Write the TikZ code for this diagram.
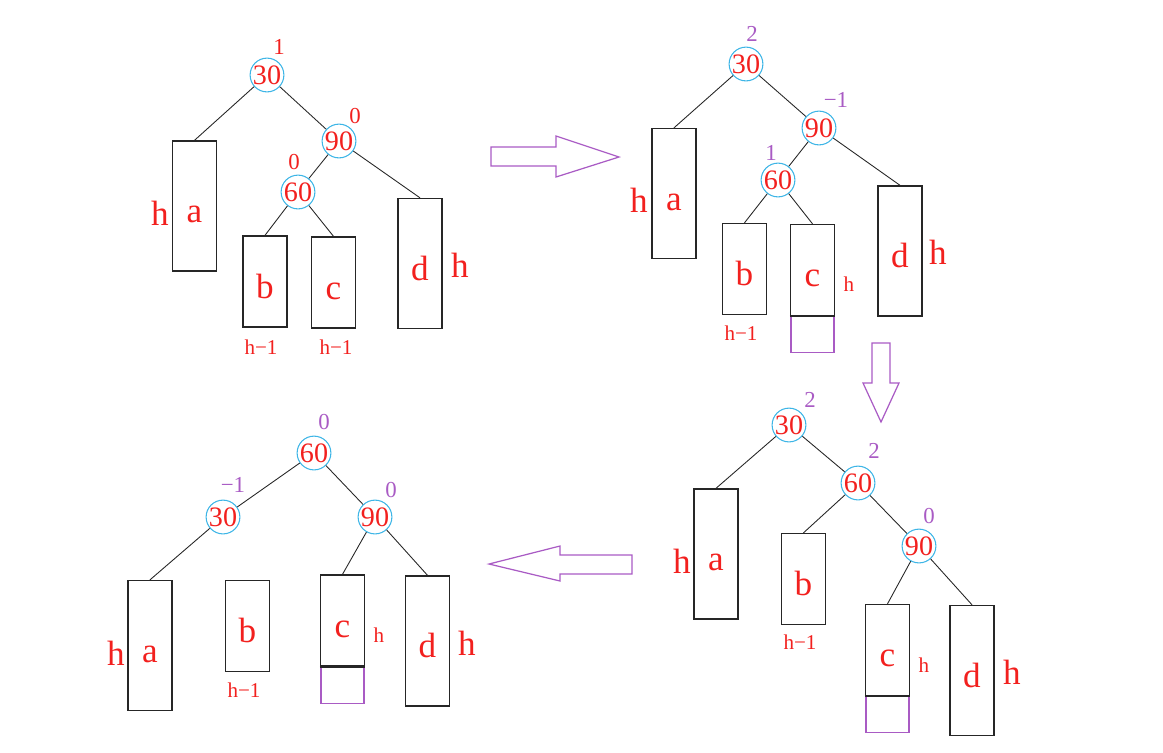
\documentclass[tikz,border=0pt]{standalone}
\usepackage{fontspec}
\setmainfont{Liberation Serif}
\definecolor{treered}{HTML}{F2201E}
\definecolor{ringblue}{HTML}{3DB5E6}
\definecolor{balpurple}{HTML}{A95BC4}
\definecolor{boxgray}{HTML}{262626}

\begin{document}
\begin{tikzpicture}[x=0.02cm, y=-0.02cm,
    every node/.style={inner sep=0pt, text=treered},
    key/.style={circle, draw=ringblue, line width=0.6pt, minimum size=0.64cm,
      font=\fontsize{16}{16}\selectfont},
    tallbox/.style={draw=boxgray, line width=0.8pt, minimum width=0.88cm,
      minimum height=2.6cm, text height=19pt, text depth=0pt,
      font=\fontsize{20}{20}\selectfont},
    shortbox/.style={tallbox, minimum height=1.82cm},
    growbox/.style={draw=balpurple, line width=0.6pt, minimum width=0.86cm,
      minimum height=0.72cm, anchor=north},
    bigh/.style={font=\fontsize{20}{20}\selectfont},
    smallh/.style={font=\fontsize{12}{12}\selectfont},
    bal/.style={font=\fontsize{13}{13}\selectfont},
    balp/.style={bal, text=balpurple},
    link/.style={draw=boxgray, line width=0.5pt},
    bigarrow/.style={draw=balpurple, line width=0.7pt}]
    \useasboundingbox (0,0) rectangle (1163,752);

    % top left: before insertion
    \node[key] (A30) at (267, 75) {30};
    \node[key] (A90) at (339, 141) {90};
    \node[key] (A60) at (298, 192) {60};
    \node[tallbox] (Aa) at (194.5, 206) {a};
    \node[shortbox] (Ab) at (265, 281.5) {b};
    \node[shortbox] (Ac) at (333.5, 282.5) {c};
    \node[tallbox] (Ad) at (420, 263.5) {d};
    \draw[link] (A30) -- (Aa.north);
    \draw[link] (A30) -- (A90);
    \draw[link] (A90) -- (A60);
    \draw[link] (A90) -- (Ad.north);
    \draw[link] (A60) -- (Ab.north);
    \draw[link] (A60) -- (Ac.north);
    \node[bal] (Abf30) at (279, 47) {1};
    \node[bal] (Abf90) at (355, 116) {0};
    \node[bal] (Abf60) at (294, 162) {0};
    \node[bigh] (Aha) at (160, 213) {h};
    \node[bigh] (Ahd) at (460, 265) {h};
    \node[smallh] (Ahb) at (261, 347) {h−1};
    \node[smallh] (Ahc) at (336, 347) {h−1};

    \draw[bigarrow] (491, 147) -- (556, 147) -- (556, 136) -- (619, 157)
      -- (556, 177) -- (556, 166) -- (491, 166) -- cycle;

    % top right: c grows by one
    \node[key] (B30) at (746, 64) {30};
    \node[key] (B90) at (819, 128) {90};
    \node[key] (B60) at (778, 180) {60};
    \node[tallbox] (Ba) at (674, 193.5) {a};
    \node[shortbox] (Bb) at (744.5, 269) {b};
    \node[shortbox] (Bc) at (812.5, 270) {c};
    \node[tallbox] (Bd) at (900, 251) {d};
    \node[growbox] (Bg) at (Bc.south) {};
    \draw[line width=1.2pt, boxgray] (Bc.south west) -- (Bc.south east);
    \draw[link] (B30) -- (Ba.north);
    \draw[link] (B30) -- (B90);
    \draw[link] (B90) -- (B60);
    \draw[link] (B90) -- (Bd.north);
    \draw[link] (B60) -- (Bb.north);
    \draw[link] (B60) -- (Bc.north);
    \node[balp] (Bbf30) at (752, 34) {2};
    \node[balp] (Bbf90) at (836, 100) {−1};
    \node[balp] (Bbf60) at (771, 153) {1};
    \node[bigh] (Bha) at (639, 200) {h};
    \node[smallh] (Bhb) at (741, 333) {h−1};
    \node[smallh] (Bhc) at (849, 284) {h};
    \node[bigh] (Bhd) at (938, 252) {h};

    \draw[bigarrow] (872, 343) -- (890, 343) -- (890, 383) -- (899, 383)
      -- (881, 422) -- (863, 383) -- (872, 383) -- cycle;

    % bottom right: right rotation at 90
    \node[key] (C30) at (789, 425) {30};
    \node[key] (C60) at (858, 483) {60};
    \node[key] (C90) at (919, 546) {90};
    \node[tallbox] (Ca) at (716, 554) {a};
    \node[shortbox] (Cb) at (803.5, 579) {b};
    \node[shortbox] (Cc) at (887.5, 650) {c};
    \node[tallbox] (Cd) at (972, 670.5) {d};
    \node[growbox] (Cg) at (Cc.south) {};
    \draw[line width=1.2pt, boxgray] (Cc.south west) -- (Cc.south east);
    \draw[link] (C30) -- (Ca.north);
    \draw[link] (C30) -- (C60);
    \draw[link] (C60) -- (Cb.north);
    \draw[link] (C60) -- (C90);
    \draw[link] (C90) -- (Cc.north);
    \draw[link] (C90) -- (Cd.north);
    \node[balp] (Cbf30) at (810, 400) {2};
    \node[balp] (Cbf60) at (874, 451) {2};
    \node[balp] (Cbf90) at (929, 516) {0};
    \node[bigh] (Cha) at (682, 561) {h};
    \node[smallh] (Chb) at (800, 642) {h−1};
    \node[smallh] (Chc) at (924, 665) {h};
    \node[bigh] (Chd) at (1012, 672) {h};

    \draw[bigarrow] (632, 555) -- (560, 555) -- (560, 546) -- (489, 564)
      -- (560, 581) -- (560, 574) -- (632, 574) -- cycle;

    % bottom left: left rotation at 30
    \node[key] (D60) at (314, 453) {60};
    \node[key] (D30) at (223, 517) {30};
    \node[key] (D90) at (375, 517) {90};
    \node[tallbox] (Da) at (150, 645.5) {a};
    \node[shortbox] (Db) at (247.5, 626) {b};
    \node[shortbox] (Dc) at (342.5, 620.5) {c};
    \node[tallbox] (Dd) at (427.5, 641) {d};
    \node[growbox] (Dg) at (Dc.south) {};
    \draw[line width=1.2pt, boxgray] (Dc.south west) -- (Dc.south east);
    \draw[link] (D60) -- (D30);
    \draw[link] (D60) -- (D90);
    \draw[link] (D30) -- (Da.north);
    \draw[link] (D90) -- (Dc.north);
    \draw[link] (D90) -- (Dd.north);
    \node[balp] (Dbf60) at (324, 422) {0};
    \node[balp] (Dbf30) at (233, 485) {−1};
    \node[balp] (Dbf90) at (391, 490) {0};
    \node[bigh] (Dha) at (116, 653) {h};
    \node[smallh] (Dhb) at (244, 690) {h−1};
    \node[smallh] (Dhc) at (379, 635) {h};
    \node[bigh] (Dhd) at (467, 643) {h};
\end{tikzpicture}
\end{document}
